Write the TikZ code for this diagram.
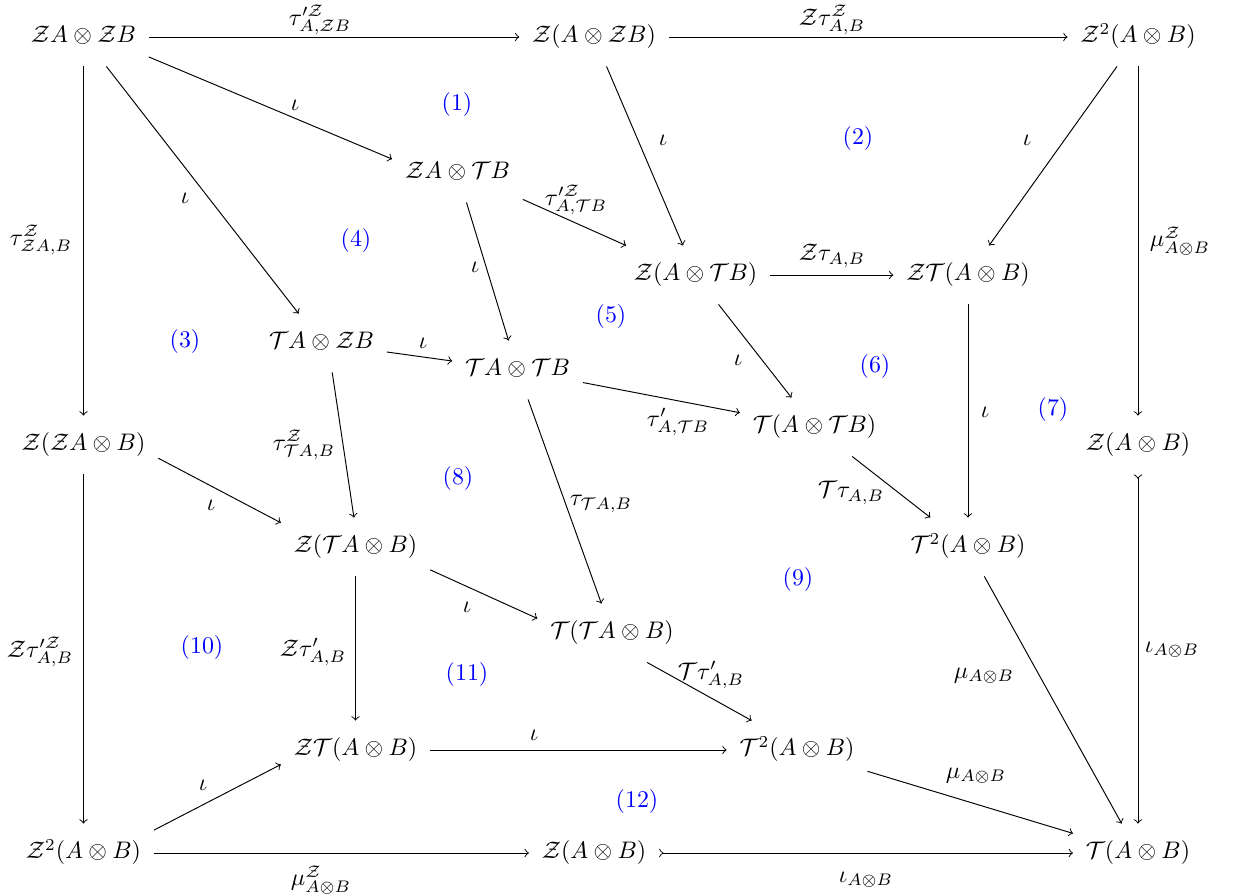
\documentclass[tikz,border=0pt]{standalone}
\usepackage{amsmath}
\begin{document}
\begin{tikzpicture}[x=0.418pt,y=-0.418pt,
  obj/.style={inner xsep=5.2pt, inner ysep=7.1pt, text height=7.5pt, text depth=2.5pt},
  lab/.style={inner sep=0pt},
  num/.style={text=blue, inner sep=0pt},
  arr/.style={->, >=to, line width=0.4pt},
  mono/.style={>->, >=to, line width=0.4pt}]
\useasboundingbox (0,0) rectangle (1241,895);
% objects
\node[obj] (a11) at (83.5,37) {$\mathcal{Z}A\otimes\mathcal{Z}B$};
\node[obj] (a12) at (594,37) {$\mathcal{Z}(A\otimes\mathcal{Z}B)$};
\node[obj] (a13) at (1138,37) {$\mathcal{Z}^2(A\otimes B)$};
\node[obj] (b) at (457.5,173) {$\mathcal{Z}A\otimes\mathcal{T}B$};
\node[obj] (c1) at (695.5,275) {$\mathcal{Z}(A\otimes\mathcal{T}B)$};
\node[obj] (c2) at (968,275) {$\mathcal{Z}\mathcal{T}(A\otimes B)$};
\node[obj] (d1) at (321.5,343) {$\mathcal{T}A\otimes\mathcal{Z}B$};
\node[obj] (d2) at (517.5,370) {$\mathcal{T}A\otimes\mathcal{T}B$};
\node[obj] (e) at (814.5,427) {$\mathcal{T}(A\otimes\mathcal{T}B)$};
\node[obj] (f1) at (83.5,445) {$\mathcal{Z}(\mathcal{Z}A\otimes B)$};
\node[obj] (f2) at (1138,445) {$\mathcal{Z}(A\otimes B)$};
\node[obj] (g1) at (355.5,547) {$\mathcal{Z}(\mathcal{T}A\otimes B)$};
\node[obj] (g2) at (968,547) {$\mathcal{T}^2(A\otimes B)$};
\node[obj] (h) at (612,633) {$\mathcal{T}(\mathcal{T}A\otimes B)$};
\node[obj] (i1) at (355.5,750) {$\mathcal{Z}\mathcal{T}(A\otimes B)$};
\node[obj] (i2) at (797,750) {$\mathcal{T}^2(A\otimes B)$};
\node[obj] (j1) at (83.5,853) {$\mathcal{Z}^2(A\otimes B)$};
\node[obj] (j2) at (594,853) {$\mathcal{Z}(A\otimes B)$};
\node[obj] (j3) at (1138,853) {$\mathcal{T}(A\otimes B)$};
% arrows
\draw[arr] (a11) -- (a12) node[lab] (l1) at (320,20) {$\tau'^{\mathcal{Z}}_{A,\mathcal{Z}B}$};
\draw[arr] (a12) -- (a13) node[lab] (l2) at (832,20) {$\mathcal{Z}\tau^{\mathcal{Z}}_{A,B}$};
\draw[arr] (a11.-17) -- (b.168) node[lab] (l3) at (295,105) {$\iota$};
\draw[arr] (a11) -- (d1) node[lab] (l4) at (185,198) {$\iota$};
\draw[arr] (a11) -- (f1) node[lab] (l5) at (41,240) {$\tau^{\mathcal{Z}}_{\mathcal{Z}A,B}$};
\draw[arr] (a12) -- (c1) node[lab] (l6) at (663,140) {$\iota$};
\draw[arr] (a13) -- (c2) node[lab] (l7) at (1027,140) {$\iota$};
\draw[arr] (a13) -- (f2) node[lab] (l8) at (1180,241) {$\mu^{\mathcal{Z}}_{A\otimes B}$};
\draw[arr] (b.-22) -- (c1.157) node[lab] (l9) at (576,200) {$\tau'^{\mathcal{Z}}_{A,\mathcal{T}B}$};
\draw[arr] (b) -- (d2) node[lab] (l10) at (475,267) {$\iota$};
\draw[arr] (c1) -- (c2) node[lab] (l11) at (832,256) {$\mathcal{Z}\tau_{A,B}$};
\draw[arr] (c1) -- (e) node[lab] (l12) at (738,360) {$\iota$};
\draw[arr] (c2) -- (g2) node[lab] (l13) at (985,412) {$\iota$};
\draw[arr] (d1) -- (d2) node[lab] (l14) at (423,343) {$\iota$};
\draw[arr] (d1.-70) -- (g1.93) node[lab] (l15) at (304,445) {$\tau^{\mathcal{Z}}_{\mathcal{T}A,B}$};
\draw[arr] (d2) -- (e) node[lab] (l16) at (678,422) {$\tau'_{A,\mathcal{T}B}$};
\draw[arr] (d2) -- (h) node[lab] (l17) at (601,504) {$\tau_{\mathcal{T}A,B}$};
\draw[arr] (e) -- (g2) node[lab] (l18) at (851,493) {$\mathcal{T}\tau_{A,B}$};
\draw[arr] (f1.-10) -- (g1.162) node[lab] (l19) at (211,505) {$\iota$};
\draw[arr] (f1) -- (j1) node[lab] (l20) at (40,652) {$\mathcal{Z}\tau'^{\mathcal{Z}}_{A,B}$};
\draw[mono] (f2) -- (j3) node[lab] (l21) at (1172,650) {$\iota_{A\otimes B}$};
\draw[arr] (g1.-17) -- (h.169) node[lab] (l22) at (467,607) {$\iota$};
\draw[arr] (g1) -- (i1) node[lab] (l23) at (313,652) {$\mathcal{Z}\tau'_{A,B}$};
\draw[arr] (g2) -- (j3) node[lab] (l24) at (984,676) {$\mu_{A\otimes B}$};
\draw[arr] (h.-40) -- (i2.147) node[lab] (l25) at (711,675) {$\mathcal{T}\tau'_{A,B}$};
\draw[arr] (i1) -- (i2) node[lab] (l26) at (534,735) {$\iota$};
\draw[arr] (j1.18) -- (i1.191) node[lab] (l27) at (203,785) {$\iota$};
\draw[arr] (i2) -- (j3) node[lab] (l28) at (976,776) {$\mu_{A\otimes B}$};
\draw[arr] (j1) -- (j2) node[lab] (l29) at (321,880) {$\mu^{\mathcal{Z}}_{A\otimes B}$};
\draw[mono] (j2) -- (j3) node[lab] (l30) at (866,880) {$\iota_{A\otimes B}$};
% region numbers
\node[num] (n1) at (457,105) {(1)};
\node[num] (n2) at (858,139) {(2)};
\node[num] (n3) at (185,342) {(3)};
\node[num] (n4) at (356,241) {(4)};
\node[num] (n5) at (611,317) {(5)};
\node[num] (n6) at (875,367) {(6)};
\node[num] (n7) at (1053,410) {(7)};
\node[num] (n8) at (458,479) {(8)};
\node[num] (n9) at (798,580) {(9)};
\node[num] (n10) at (202,648) {(10)};
\node[num] (n11) at (467,675) {(11)};
\node[num] (n12) at (637,802) {(12)};
\end{tikzpicture}
\end{document}
